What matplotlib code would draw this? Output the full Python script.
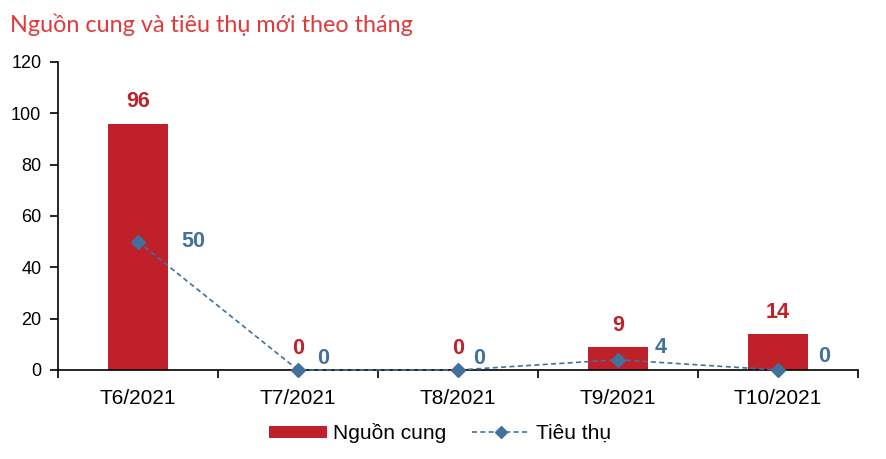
import matplotlib
matplotlib.use("Agg")
import matplotlib.pyplot as plt
import numpy as np

categories = ["T6/2021", "T7/2021", "T8/2021", "T9/2021", "T10/2021"]
supply = [96, 0, 0, 9, 14]
consumption = [50, 0, 0, 4, 0]
yticks = [0, 20, 40, 60, 80, 100, 120]

RED = "#C0202A"
BLUE = "#41719C"
TITLE_RED = "#E2393B"

plt.rcParams['font.family'] = ['Liberation Sans', 'DejaVu Sans']

fig = plt.figure(figsize=(8.86, 4.59), dpi=100)
ax = fig.add_axes([58/886, 1-370/459, 800/886, 308/459])

x = np.arange(len(categories))
bars = ax.bar(x, supply, width=0.375, color=RED, label="Nguồn cung", zorder=2)
line, = ax.plot(x, consumption, linestyle=(0, (3, 2)), color=BLUE, lw=1.2,
                marker="D", markersize=7, markerfacecolor=BLUE,
                markeredgecolor=BLUE, label="Tiêu thụ", zorder=4,
                clip_on=False)

ax.set_xlim(-0.5, len(categories) - 0.5)
ax.set_ylim(0, 120)
ax.set_yticks(yticks)
ax.set_yticklabels([str(v) for v in yticks], fontsize=13)
ax.set_xticks(x)
ax.set_xticklabels(categories, fontsize=15)
ax.tick_params(axis='x', length=0, pad=14)
ax.set_xticks(np.arange(len(categories) + 1) - 0.5, minor=True)
ax.tick_params(axis='x', which='minor', length=6, direction='out', width=1.2)
ax.tick_params(axis='y', length=6, direction='out', width=1.2, pad=6)

for s in ["top", "right"]:
    ax.spines[s].set_visible(False)
ax.spines["left"].set_linewidth(1.2)
ax.spines["bottom"].set_linewidth(1.2)
ax.spines["bottom"].set_zorder(3)

# bar labels
for xi, v in zip(x, supply):
    ax.annotate(str(v), (xi, v), xytext=(0, 8), textcoords="offset points",
                ha="center", va="bottom", color=RED, fontsize=15.5,
                fontweight="bold")

# line labels (manually positioned like the reference)
offsets = [(40, 0), (18, 8), (15, 8), (31, 9), (33, 10)]
for xi, v, off in zip(x, consumption, offsets):
    ax.annotate(str(v), (xi, v), xytext=off, textcoords="offset points",
                ha="center", va="center", color=BLUE, fontsize=15.5,
                fontweight="bold")

fig.text(10/886, 1-25/459, "Nguồn cung và tiêu thụ mới theo tháng",
         fontsize=16.8, color=TITLE_RED, family=["Lato", "DejaVu Sans"],
         ha="left", va="center")

fig.legend([bars, line], ["Nguồn cung", "Tiêu thụ"], loc="center",
           bbox_to_anchor=(440/886, 1-433/459), ncol=2,
           frameon=False, fontsize=15, handlelength=2.8, handleheight=0.5,
           columnspacing=1.2, handletextpad=0.3, markerscale=0.85)

fig.savefig("out.png", dpi=100)
